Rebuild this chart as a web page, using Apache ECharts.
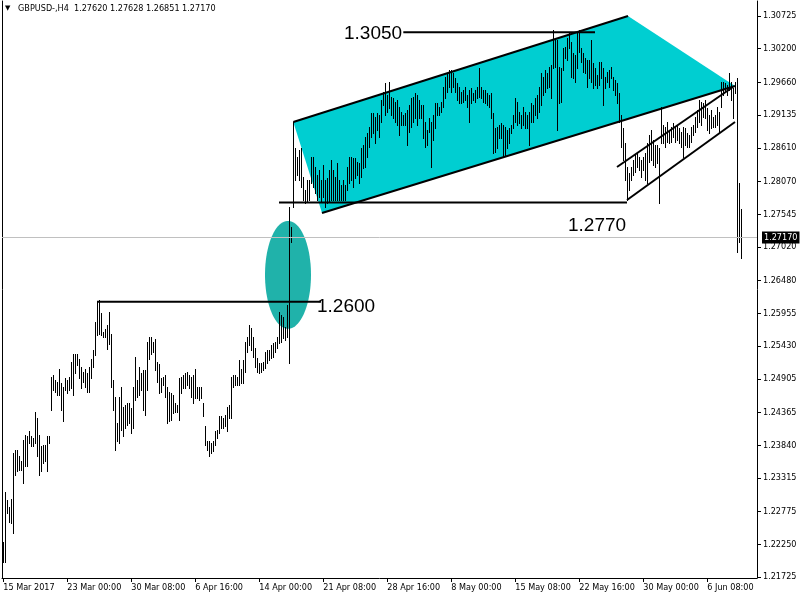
<!DOCTYPE html>
<html><head><meta charset="utf-8">
<script src="https://cdn.jsdelivr.net/npm/echarts@6/dist/echarts.min.js"></script>
<style>html,body{margin:0;padding:0;background:#fff}#c{width:800px;height:600px}</style>
</head><body><div id="c"></div>
<script>
// ---- data ----
const symbolText = 'GBPUSD-,H4  1.27620 1.27628 1.26851 1.27170';
const currentPrice = 1.2717;
const currentPriceLabel = '1.27170';
const timeTickBars = [0,32,64,96,128,160,192,224,256,288,320,352];
const timeTickLabels = ['15 Mar 2017','23 Mar 00:00','30 Mar 08:00','6 Apr 16:00','14 Apr 00:00','21 Apr 08:00','28 Apr 16:00','8 May 00:00','15 May 08:00','22 May 16:00','30 May 00:00','6 Jun 08:00'];
const priceTicks = [1.21725,1.22250,1.22775,1.23315,1.23840,1.24365,1.24905,1.25430,1.25955,1.26480,1.27020,1.27545,1.28070,1.28610,1.29135,1.29660,1.30200,1.30725];

const highs = [
1.2229,1.2309,1.2296,1.2285,1.2297,1.2372,1.2376,1.2376,1.2366,1.2358,
1.2392,1.2400,1.2398,1.2406,1.2398,1.2395,1.2438,1.2427,1.2400,1.2382,
1.2384,1.2384,1.2398,1.2398,1.2494,1.2497,1.2489,1.2486,1.2507,1.2483,
1.2478,1.2491,1.2489,1.2494,1.2518,1.2531,1.2531,1.2531,1.2523,1.2510,
1.2502,1.2507,1.2499,1.2510,1.2523,1.2537,1.2582,1.2614,1.2617,1.2596,
1.2566,1.2571,1.2577,1.2598,1.2563,1.2489,1.2462,1.2419,1.2462,1.2478,
1.2446,1.2448,1.2451,1.2451,1.2443,1.2478,1.2526,1.2489,1.2510,1.2499,
1.2505,1.2505,1.2550,1.2558,1.2558,1.2550,1.2555,1.2518,1.2515,1.2491,
1.2494,1.2497,1.2478,1.2470,1.2467,1.2464,1.2451,1.2448,1.2491,1.2494,
1.2497,1.2499,1.2502,1.2497,1.2494,1.2497,1.2507,1.2478,1.2478,1.2478,
1.2451,1.2414,1.2390,1.2390,1.2387,1.2390,1.2406,1.2408,1.2430,1.2430,
1.2427,1.2432,1.2446,1.2448,1.2494,1.2497,1.2497,1.2494,1.2521,1.2507,
1.2521,1.2550,1.2558,1.2577,1.2572,1.2558,1.2540,1.2524,1.2516,1.2516,
1.2517,1.2534,1.2537,1.2537,1.2545,1.2548,1.2550,1.2558,1.2598,1.2593,
1.2590,1.2574,1.2609,1.2766,1.2734,1.2903,1.2861,1.2846,1.2858,1.2861,
1.2814,1.2793,1.2809,1.2809,1.2846,1.2846,1.2830,1.2817,1.2826,1.2809,
1.2834,1.2809,1.2813,1.2826,1.2842,1.2826,1.2814,1.2837,1.2809,1.2801,
1.2809,1.2801,1.2830,1.2846,1.2846,1.2845,1.2845,1.2838,1.2837,1.2861,
1.2866,1.2878,1.2885,1.2894,1.2917,1.2917,1.2911,1.2917,1.2914,1.2938,
1.2951,1.2965,1.2946,1.2967,1.2943,1.2941,1.2935,1.2938,1.2927,1.2919,
1.2914,1.2917,1.2922,1.2930,1.2941,1.2943,1.2949,1.2946,1.2938,1.2930,
1.2930,1.2903,1.2890,1.2909,1.2903,1.2914,1.2933,1.2933,1.2927,1.2935,
1.2959,1.2975,1.2981,1.2986,1.2986,1.2981,1.2973,1.2965,1.2959,1.2951,
1.2954,1.2959,1.2946,1.2954,1.2957,1.2949,1.2954,1.2959,1.2989,1.2959,
1.2954,1.2954,1.2949,1.2946,1.2949,1.2917,1.2893,1.2894,1.2898,1.2901,
1.2898,1.2894,1.2890,1.2893,1.2898,1.2914,1.2941,1.2935,1.2919,1.2914,
1.2927,1.2919,1.2914,1.2919,1.2933,1.2930,1.2941,1.2946,1.2959,1.2981,
1.2975,1.2986,1.2981,1.2991,1.2994,1.3050,1.3037,1.3034,1.2991,1.2989,
1.3021,1.3023,1.3037,1.3045,1.3031,1.3013,1.3010,1.3047,1.3050,1.3021,
1.3013,1.3005,1.3002,1.3002,1.3034,1.2997,1.2989,1.2978,1.2999,1.2999,
1.2989,1.2975,1.2983,1.2986,1.2991,1.2975,1.2970,1.2965,1.2949,1.2914,
1.2893,1.2869,1.2830,1.2821,1.2830,1.2842,1.2850,1.2853,1.2846,1.2842,
1.2846,1.2853,1.2869,1.2882,1.2890,1.2874,1.2866,1.2866,1.2861,1.2927,
1.2898,1.2894,1.2903,1.2890,1.2894,1.2901,1.2894,1.2898,1.2893,1.2886,
1.2894,1.2893,1.2885,1.2882,1.2894,1.2898,1.2911,1.2922,1.2938,1.2935,
1.2933,1.2938,1.2925,1.2914,1.2922,1.2911,1.2914,1.2927,1.2919,1.2967,
1.2967,1.2965,1.2962,1.2981,1.2967,1.2957,1.2967,1.2973,1.2805,1.2763
];
const lows = [
1.2197,1.2197,1.2275,1.2261,1.2259,1.2243,1.2336,1.2342,1.2344,1.2344,
1.2323,1.2350,1.2350,1.2387,1.2382,1.2382,1.2387,1.2366,1.2336,1.2342,
1.2355,1.2358,1.2342,1.2387,1.2440,1.2473,1.2470,1.2464,1.2464,1.2440,
1.2422,1.2473,1.2467,1.2473,1.2475,1.2464,1.2499,1.2513,1.2491,1.2475,
1.2486,1.2478,1.2470,1.2470,1.2491,1.2510,1.2529,1.2561,1.2563,1.2561,
1.2558,1.2558,1.2539,1.2547,1.2478,1.2440,1.2376,1.2390,1.2387,1.2408,
1.2398,1.2411,1.2416,1.2419,1.2403,1.2411,1.2456,1.2462,1.2464,1.2473,
1.2440,1.2432,1.2473,1.2523,1.2531,1.2534,1.2505,1.2486,1.2467,1.2470,
1.2481,1.2462,1.2419,1.2422,1.2424,1.2435,1.2438,1.2438,1.2424,1.2467,
1.2475,1.2475,1.2481,1.2475,1.2462,1.2451,1.2459,1.2459,1.2456,1.2459,
1.2430,1.2384,1.2376,1.2366,1.2371,1.2374,1.2384,1.2395,1.2403,1.2411,
1.2411,1.2414,1.2406,1.2427,1.2427,1.2478,1.2481,1.2481,1.2481,1.2483,
1.2483,1.2502,1.2534,1.2545,1.2537,1.2525,1.2509,1.2501,1.2500,1.2501,
1.2505,1.2508,1.2516,1.2521,1.2524,1.2525,1.2534,1.2540,1.2548,1.2550,
1.2556,1.2553,1.2558,1.2516,1.2710,1.2766,1.2809,1.2817,1.2809,1.2798,
1.2777,1.2773,1.2774,1.2777,1.2805,1.2798,1.2789,1.2777,1.2782,1.2774,
1.2782,1.2766,1.2773,1.2774,1.2777,1.2777,1.2777,1.2777,1.2777,1.2777,
1.2777,1.2777,1.2793,1.2805,1.2809,1.2798,1.2813,1.2817,1.2805,1.2814,
1.2829,1.2830,1.2846,1.2862,1.2878,1.2885,1.2869,1.2890,1.2878,1.2903,
1.2930,1.2914,1.2919,1.2925,1.2914,1.2909,1.2903,1.2898,1.2882,1.2898,
1.2898,1.2898,1.2866,1.2886,1.2894,1.2903,1.2909,1.2898,1.2909,1.2909,
1.2877,1.2862,1.2866,1.2886,1.2830,1.2874,1.2893,1.2914,1.2914,1.2918,
1.2927,1.2941,1.2951,1.2959,1.2951,1.2959,1.2951,1.2938,1.2933,1.2933,
1.2935,1.2938,1.2927,1.2903,1.2933,1.2938,1.2935,1.2941,1.2943,1.2941,
1.2935,1.2933,1.2930,1.2927,1.2909,1.2853,1.2854,1.2861,1.2877,1.2877,
1.2846,1.2850,1.2861,1.2869,1.2885,1.2893,1.2903,1.2898,1.2901,1.2893,
1.2898,1.2893,1.2893,1.2866,1.2903,1.2903,1.2914,1.2909,1.2919,1.2930,
1.2946,1.2951,1.2957,1.2959,1.2941,1.2989,1.2991,1.2890,1.2933,1.2935,
1.2986,1.3005,1.3002,1.3021,1.2975,1.2973,1.2967,1.2989,1.3015,1.2999,
1.2983,1.2981,1.2959,1.2973,1.2967,1.2957,1.2962,1.2957,1.2962,1.2973,
1.2930,1.2957,1.2967,1.2959,1.2973,1.2954,1.2946,1.2933,1.2903,1.2862,
1.2842,1.2809,1.2777,1.2793,1.2809,1.2817,1.2822,1.2830,1.2826,1.2814,
1.2826,1.2809,1.2805,1.2838,1.2842,1.2834,1.2830,1.2837,1.2773,1.2869,
1.2869,1.2862,1.2870,1.2869,1.2870,1.2878,1.2870,1.2874,1.2869,1.2862,
1.2846,1.2866,1.2862,1.2862,1.2870,1.2882,1.2886,1.2894,1.2903,1.2898,
1.2911,1.2909,1.2890,1.2885,1.2893,1.2894,1.2894,1.2898,1.2886,1.2927,
1.2946,1.2951,1.2946,1.2954,1.2938,1.2909,1.2949,1.2694,1.2710,1.2685
];

// drawn objects, anchored at [bar index, price]
const channelFill = [[145.0,1.29025],[312.35,1.30725],[365.85,1.29602],[159.35,1.27565]];
const ellipseCenter = [142.35,1.26573];
const ellipseRadius = [11.5,0.00866];
const trendLines = [
  [200.0,1.30464,295.85,1.30464],
  [137.85,1.27733,311.85,1.27733],
  [46.85,1.26142,158.85,1.26142],
  [145.0,1.29025,312.35,1.30725],
  [159.35,1.27565,365.85,1.29602],
  [306.85,1.28303,364.85,1.29586],
  [311.85,1.27773,365.85,1.29025]
];
const textLabels = ['1.3050','1.2770','1.2600'];
const textAnchors = [[170.35,1.30448],[282.35,1.27356],[156.85,1.26061]];

// ---- chart ----
const FONT = "'DejaVu Sans Condensed','Liberation Sans',sans-serif";
const FS = 9;
const chart = echarts.init(document.getElementById('c'));
const barData = highs.map((h,i)=>[i,h,lows[i]]);
const Y_MIN = 1.21709, Y_MAX = 1.30966;

const option = {
  animation:false,
  backgroundColor:'#fff',
  title:{
    text:'{t|▼}   '+symbolText, left:5, top:4, padding:0,
    textStyle:{fontFamily:FONT,fontSize:FS,fontWeight:'normal',color:'#000',
      rich:{t:{fontSize:7,fontFamily:'DejaVu Sans',color:'#000'}}}
  },
  grid:{left:2,right:43,top:1,bottom:22,containLabel:false,outerBoundsMode:'none'},
  xAxis:{
    type:'value', min:-0.65, max:376.85,
    axisLine:{show:true,onZero:false,lineStyle:{color:'#000',width:1}},
    axisTick:{show:true,length:4,customValues:timeTickBars,lineStyle:{color:'#000'}},
    axisLabel:{customValues:timeTickBars, showMinLabel:true, showMaxLabel:true, hideOverlap:false,
      formatter:v=>{const k=timeTickBars.indexOf(Math.round(v));return k<0?'':timeTickLabels[k];},
      align:'left', margin:5, color:'#000', fontFamily:FONT, fontSize:FS},
    splitLine:{show:false}
  },
  yAxis:[{
    type:'value', position:'right', min:Y_MIN, max:Y_MAX,
    axisLine:{show:true,onZero:false,lineStyle:{color:'#000',width:1}},
    axisTick:{show:true,length:4,customValues:priceTicks,lineStyle:{color:'#000'}},
    axisLabel:{customValues:priceTicks, showMinLabel:true, showMaxLabel:true, hideOverlap:false,
      formatter:v=>v.toFixed(5), margin:6,
      color:'#000', fontFamily:FONT, fontSize:FS},
    splitLine:{show:false}
  },{
    type:'value', position:'left', min:Y_MIN, max:Y_MAX,
    axisLine:{show:true,onZero:false,lineStyle:{color:'#000',width:1}},
    axisTick:{show:false}, axisLabel:{show:false}, splitLine:{show:false}
  }],
  series:[
    {
      type:'custom', name:'fills', z:1, silent:true, clip:false,
      data:[[0,1.25]],
      renderItem:(params,api)=>{
        const poly = channelFill.map(p=>api.coord(p));
        const c = api.coord(ellipseCenter);
        const s = api.size(ellipseRadius, ellipseCenter);
        const pts=[];
        for(let k=0;k<90;k++){const t=k/90*Math.PI*2;pts.push([c[0]+s[0]*Math.cos(t),c[1]+s[1]*Math.sin(t)]);}
        return {type:'group',children:[
          {type:'polygon',shape:{points:poly},style:{fill:'#00CED1'}},
          {type:'polygon',shape:{points:pts},style:{fill:'#20B2AA'}}
        ]};
      },
      markLine:{
        silent:true, symbol:['none','none'], animation:false, precision:6,
        data:[{yAxis:currentPrice}],
        lineStyle:{color:'#c0c0c0',width:1,type:'solid'},
        label:{show:true,position:'end',formatter:currentPriceLabel,color:'#fff',
          backgroundColor:'#000',padding:[2,2,1,2],distance:5,fontFamily:FONT,fontSize:FS}
      }
    },
    {
      type:'custom', name:'bars', z:3, silent:true,
      data:barData,
      encode:{x:0,y:[1,2]},
      renderItem:(params,api)=>{
        const i=api.value(0);
        const hi=api.coord([i,api.value(1)]);
        const lo=api.coord([i,api.value(2)]);
        const x=Math.round(hi[0])+0.5;
        return {type:'line',shape:{x1:x,y1:Math.round(hi[1]),x2:x,y2:Math.round(lo[1])+1},
          style:{stroke:'#000',lineWidth:1}};
      }
    },
    {
      type:'custom', name:'lines', z:4, silent:true, clip:false,
      data:trendLines,
      encode:{x:[0,2],y:[1,3]},
      renderItem:(params,api)=>{
        const a=api.coord([api.value(0),api.value(1)]);
        const b=api.coord([api.value(2),api.value(3)]);
        return {type:'line',shape:{x1:a[0],y1:a[1],x2:b[0],y2:b[1]},
          style:{stroke:'#000',lineWidth:2}};
      }
    },
    {
      type:'custom', name:'texts', z:5, silent:true, clip:false,
      data:textAnchors,
      encode:{x:0,y:1},
      renderItem:(params,api)=>{
        const p=api.coord([api.value(0),api.value(1)]);
        return {type:'text',x:p[0],y:p[1],
          style:{text:textLabels[params.dataIndex],fill:'#000',
            font:"19px 'Liberation Sans', Arial, sans-serif",align:'left',verticalAlign:'middle'}};
      }
    }
  ]
};
chart.setOption(option);
</script>
</body></html>
